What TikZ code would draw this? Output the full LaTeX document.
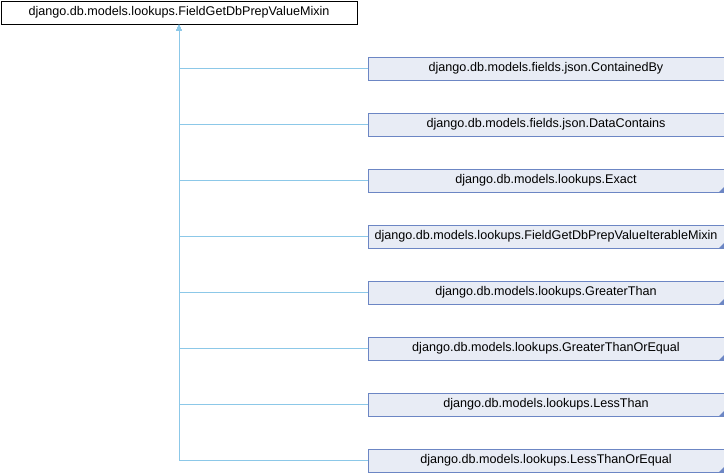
\documentclass[tikz,border=0pt]{standalone}
\usepackage{fontspec}
\setmainfont{Liberation Sans}
\usetikzlibrary{arrows.meta}
\definecolor{boxfill}{HTML}{E8ECF5}
\definecolor{boxdraw}{HTML}{6C86C4}
\definecolor{edgecol}{HTML}{8CC8E8}
\tikzset{
  base/.style={draw, line width=1pt, minimum height=23pt, inner sep=0pt,
    font=\fontsize{12.6}{14}\selectfont, anchor=north west},
  topbox/.style={base, draw=black, fill=white, minimum width=356pt},
  childbox/.style={base, draw=boxdraw, fill=boxfill, minimum width=356pt},
  edge/.style={draw=edgecol, line width=0.9pt, {Triangle[length=6pt,width=5pt]}-},
  cornermark/.style={fill=boxdraw, draw=none}
}
\begin{document}
\begin{tikzpicture}[x=1pt,y=-1pt]
\useasboundingbox (0,0) rectangle (724,472);
\node[topbox] (top) at (0.5,0.5) {django.db.models.lookups.FieldGetDbPrepValueMixin};
\node[childbox] (c0) at (367.5,56.5) {django.db.models.fields.json.ContainedBy};
\node[childbox] (c1) at (367.5,112.5) {django.db.models.fields.json.DataContains};
\node[childbox] (c2) at (367.5,168.5) {django.db.models.lookups.Exact};
\node[childbox] (c3) at (367.5,224.5) {django.db.models.lookups.FieldGetDbPrepValueIterableMixin};
\node[childbox] (c4) at (367.5,280.5) {django.db.models.lookups.GreaterThan};
\node[childbox] (c5) at (367.5,336.5) {django.db.models.lookups.GreaterThanOrEqual};
\node[childbox] (c6) at (367.5,392.5) {django.db.models.lookups.LessThan};
\node[childbox] (c7) at (367.5,448.5) {django.db.models.lookups.LessThanOrEqual};
\foreach \c in {c2,c3,c4,c5,c6,c7}{
  \fill[cornermark] (\c.south east) -- ++(-6,0) -- ++(6,-6) -- cycle;
}
\foreach \c in {c0,c1,c2,c3,c4,c5,c6,c7}{
  \draw[edge] (top.south) |- (\c.west);
}
\end{tikzpicture}
\end{document}
